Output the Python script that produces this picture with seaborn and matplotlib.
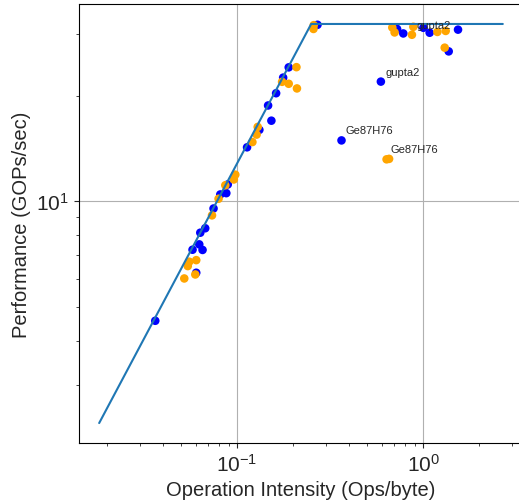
import pandas as pd
import matplotlib.pyplot as plt
import seaborn as sns

# roofline: memory bound slope then compute ceiling
roof_x = [0.0182, 0.25, 2.67]
roof_y = [2.33, 32.0, 32.0]

# platform A (blue)
a_oi = [0.0364, 0.0604, 0.0577, 0.0653, 0.0627, 0.0635, 0.0675, 0.0748, 0.0813,
        0.0876, 0.0892, 0.1132, 0.1318, 0.1529, 0.1468, 0.1621, 0.1768, 0.1894,
        0.2703, 0.7229, 0.7804, 1.0, 1.081, 1.535, 1.368, 0.5916, 0.3637]
a_perf = [4.56, 6.25, 7.27, 7.26, 7.53, 8.13, 8.37, 9.53, 10.45,
          10.54, 11.16, 14.24, 15.97, 16.96, 18.74, 20.31, 22.5, 24.07,
          31.83, 30.97, 30.07, 31.21, 30.21, 30.83, 26.73, 21.92, 14.9]

# platform B (orange)
b_oi = [0.0521, 0.0597, 0.0544, 0.0554, 0.0604, 0.0734, 0.0796, 0.0865, 0.0961,
        0.0979, 0.1209, 0.1274, 0.1291, 0.1745, 0.1894, 0.2097, 0.2084, 0.2572,
        0.2581, 0.6813, 0.701, 0.8684, 0.8837, 1.189, 1.318, 1.302, 0.6348, 0.6548]
b_perf = [6.02, 6.18, 6.53, 6.72, 6.79, 9.11, 10.16, 11.1, 11.53,
          11.9, 14.74, 15.48, 16.28, 21.89, 21.61, 20.96, 24.1, 30.97,
          31.75, 31.27, 30.27, 29.81, 31.41, 30.37, 30.57, 27.39, 13.16, 13.2]

# labelled outliers: (platform, oi, perf, name)
labels = [("A", 0.5916, 21.92, "gupta2"),
          ("A", 0.3637, 14.9, "Ge87H76"),
          ("B", 0.8684, 29.81, "gupta2"),
          ("B", 0.6348, 13.16, "Ge87H76")]

df = pd.DataFrame({
    "oi": a_oi + b_oi,
    "perf": a_perf + b_perf,
    "platform": ["A"] * len(a_oi) + ["B"] * len(b_oi),
})

sns.set_style("ticks", {"axes.grid": True, "grid.color": "#b0b0b0",
                        "axes.edgecolor": "black"})
plt.rcParams['font.family'] = ['Liberation Sans', 'DejaVu Sans']
plt.rcParams['mathtext.fontset'] = 'custom'
plt.rcParams['mathtext.rm'] = 'Liberation Sans'
plt.rcParams['mathtext.it'] = 'Liberation Sans:italic'
plt.rcParams['mathtext.bf'] = 'Liberation Sans:bold'

fig, ax = plt.subplots(figsize=(5.19, 5.02), dpi=100)
ax.set_position([0.1522, 0.1155, 0.8555, 0.8745])

sns.scatterplot(data=df, x="oi", y="perf", hue="platform",
                palette={"A": "blue", "B": "orange"}, s=38, linewidth=0,
                legend=False, ax=ax, zorder=2)
sns.lineplot(x=roof_x, y=roof_y, color="C0", linewidth=1.5, ax=ax, zorder=3)

for plat, x, y, name in labels:
    ax.annotate(name, (x, y), xytext=(3, 5), textcoords="offset points",
                fontsize=8, zorder=4)

ax.set_xscale("log")
ax.set_yscale("log")
ax.grid(True, which="major", linewidth=0.8)
ax.set_xlabel("Operation Intensity (Ops/byte)", fontsize=14.5)
ax.set_ylabel("Performance (GOPs/sec)", fontsize=14.5)
ax.tick_params(axis="both", which="major", labelsize=15)

fig.savefig("out.png", dpi=100)
